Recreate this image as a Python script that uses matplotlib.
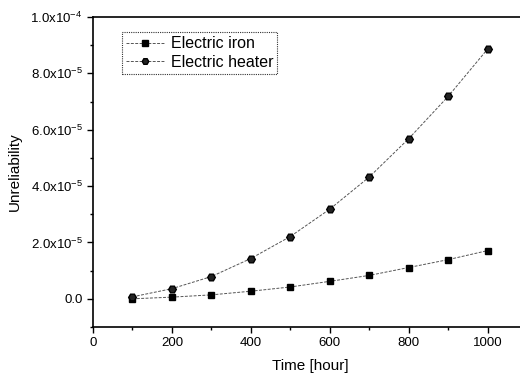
import matplotlib
matplotlib.use("Agg")
import matplotlib.pyplot as plt
from matplotlib.ticker import MultipleLocator, FuncFormatter

plt.rcParams['font.family'] = ['Liberation Sans', 'DejaVu Sans']
plt.rcParams['mathtext.fontset'] = 'custom'
plt.rcParams['mathtext.rm'] = 'Liberation Sans'

time_h = [100, 200, 300, 400, 500, 600, 700, 800, 900, 1000]
iron = [0.0, 0.06e-5, 0.14e-5, 0.27e-5, 0.42e-5, 0.62e-5, 0.83e-5, 1.11e-5, 1.39e-5, 1.71e-5]
heater = [0.07e-5, 0.36e-5, 0.79e-5, 1.43e-5, 2.21e-5, 3.18e-5, 4.32e-5, 5.68e-5, 7.18e-5, 8.86e-5]

fig = plt.figure(figsize=(5.2, 3.76), dpi=100)
# axes run past the right edge like the cropped original
ax = fig.add_axes([93/520, (376-327)/376, 434/520, 310/376])

ax.plot(time_h, iron, color='#555555', ls=(0, (3, 1.5)), lw=0.7,
        marker='s', ms=5, mfc='black', mec='black', label='Electric iron')
ax.plot(time_h, heater, color='#555555', ls=(0, (3, 1.5)), lw=0.7,
        marker='H', ms=5.5, mfc='#222222', mec='black', label='Electric heater')

ax.set_xlim(0, 1100)
ax.set_ylim(-1e-5, 1e-4)
ax.xaxis.set_major_locator(MultipleLocator(200))
ax.xaxis.set_minor_locator(MultipleLocator(100))
ax.yaxis.set_major_locator(MultipleLocator(2e-5))
ax.yaxis.set_minor_locator(MultipleLocator(1e-5))


def yfmt(v, pos):
    if abs(v) < 1e-12:
        return '0.0'
    exp = 0
    m = v
    while abs(m) < 1:
        m *= 10
        exp -= 1
    return r'$\mathrm{%.1fx10}^{%d}$' % (m, exp)


ax.yaxis.set_major_formatter(FuncFormatter(yfmt))
ax.tick_params(which='major', direction='out', length=4, width=1, labelsize=9.5)
ax.tick_params(which='minor', direction='out', length=2.5, width=1)
ax.spines['right'].set_visible(False)
for s in ['left', 'bottom', 'top']:
    ax.spines[s].set_linewidth(1.2)

ax.set_xlabel('Time [hour]', fontsize=11, labelpad=7)
ax.set_ylabel('Unreliability', fontsize=11, labelpad=6)

leg = ax.legend(loc='upper left', bbox_to_anchor=(0.067, 0.95), fontsize=11.5,
                frameon=True, fancybox=False, handlelength=2.4, borderpad=0.25,
                labelspacing=0.2, handletextpad=0.4, borderaxespad=0, markerscale=0.85)
leg.get_frame().set_edgecolor('black')
leg.get_frame().set_linewidth(0.8)
leg.get_frame().set_linestyle((0, (1, 1)))

fig.savefig('out.png', dpi=100)
